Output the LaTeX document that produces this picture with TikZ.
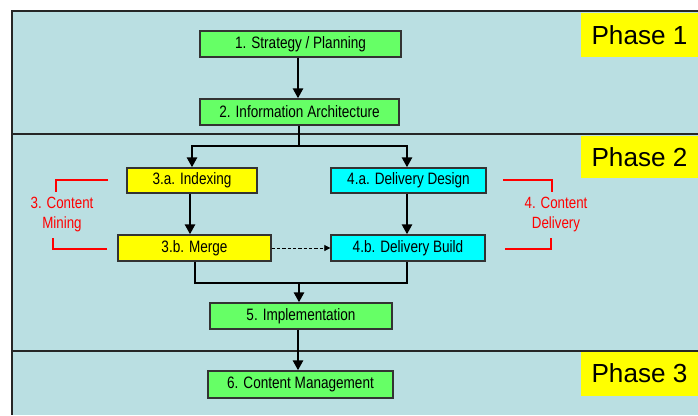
\documentclass[tikz,border=0pt]{standalone}
\usepackage{fontspec}
\setmainfont{Liberation Sans}
\usetikzlibrary{arrows.meta}
\definecolor{bgblue}{HTML}{BADFE2}
\definecolor{boxgreen}{HTML}{66FF66}
\definecolor{boxyellow}{HTML}{FFFF00}
\definecolor{boxcyan}{HTML}{00FFFF}
\definecolor{redline}{HTML}{FF0000}
\newcommand{\narrow}[1]{\scalebox{0.82}[1]{#1}}
\begin{document}
\begin{tikzpicture}[x=0.75pt,y=-0.75pt,
  box/.style={draw=black!80, line width=1pt, minimum height=26*0.75pt, inner sep=0pt, font=\fontsize{12.4pt}{14pt}\selectfont},
  conn/.style={draw=black, line width=2pt},
  arr/.style={conn, -{Triangle[width=7.5pt,length=7.5pt]}},
  phase/.style={fill=boxyellow, inner sep=0pt, font=\fontsize{19.6pt}{22pt}\selectfont},
  redlab/.style={text=redline, align=center, font=\fontsize{12.2pt}{15pt}\selectfont},
  bracket/.style={draw=redline, line width=2.2pt}
]
\useasboundingbox (0,0) rectangle (698,415);
% background
\fill[white] (0,0) rectangle (698,415);
\fill[bgblue] (12,11) rectangle (698,415);
\draw[black!85, line width=0.9pt] (698,11) -- (12,11) -- (12,415);
\draw[black!85, line width=0.9pt] (12,134) -- (698,134);
\draw[black!85, line width=0.9pt] (12,351) -- (698,351);
% phase labels
\node[phase, minimum width=117*0.75pt, minimum height=44*0.75pt] (p1) at (639.5,35) {Phase 1};
\node[phase, minimum width=117*0.75pt, minimum height=42*0.75pt] (p2) at (639.5,157) {Phase 2};
\node[phase, minimum width=117*0.75pt, minimum height=44*0.75pt] (p3) at (639.5,373.5) {Phase 3};
% boxes
\node[box, fill=boxgreen, minimum width=201*0.75pt] (n1) at (300.5,44) {\narrow{1. Strategy / Planning}};
\node[box, fill=boxgreen, minimum width=199*0.75pt] (n2) at (299.5,112) {\narrow{2. Information Architecture}};
\node[box, fill=boxyellow, minimum width=130*0.75pt, minimum height=25*0.75pt] (n3a) at (192,180.5) {\narrow{3.a. Indexing}};
\node[box, fill=boxcyan, minimum width=155*0.75pt, minimum height=25*0.75pt] (n4a) at (408.5,180.5) {\narrow{4.a. Delivery Design}};
\node[box, fill=boxyellow, minimum width=153*0.75pt] (n3b) at (194.5,248) {\narrow{3.b. Merge}};
\node[box, fill=boxcyan, minimum width=154*0.75pt] (n4b) at (408,248) {\narrow{4.b. Delivery Build}};
\node[box, fill=boxgreen, minimum width=182*0.75pt] (n5) at (301,316) {\narrow{5. Implementation}};
\node[box, fill=boxgreen, minimum width=185*0.75pt, minimum height=27*0.75pt] (n6) at (300.5,384.5) {\narrow{6. Content Management}};
% connectors
\coordinate (s1) at (299,146);
\coordinate (m1) at (299,283);
\draw[arr] (n1.south -| 298,0) -- (n2.north -| 298,0);
\draw[conn] (n2.south -| s1) -- (s1);
\draw[arr] (s1) -| (n3a.north);
\draw[arr] (s1) -| (n4a.north -| 407,0);
\draw[arr] (n3a.south -| 190,0) -- (n3b.north -| 190,0);
\draw[arr] (n4a.south -| 407,0) -- (n4b.north -| 407,0);
\draw[conn] (n3b.south -| 195,0) |- (m1) -| (n4b.south -| 407,0);
\draw[arr] (m1) -- (n5.north -| m1);
\draw[arr] (n5.south -| 298,0) -- (n6.north -| 298,0);
\draw[black, line width=0.6pt, dashed, dash pattern=on 2.5pt off 1.5pt, -{Triangle[width=4.5pt,length=4.5pt]}] (n3b.east) -- (n4b.west);
% red brackets
\draw[bracket] (108,180) -- (56,180) -- (56,192);
\draw[bracket] (107,249) -- (53,249) -- (53,238);
\draw[bracket] (503,180) -- (552,180) -- (552,192);
\draw[bracket] (505,249) -- (551,249) -- (551,238);
\node[redlab] (cm) at (62,214) {\narrow{3. Content}\\\narrow{Mining}};
\node[redlab] (cd) at (556,214) {\narrow{4. Content}\\\narrow{Delivery}};
\end{tikzpicture}
\end{document}
